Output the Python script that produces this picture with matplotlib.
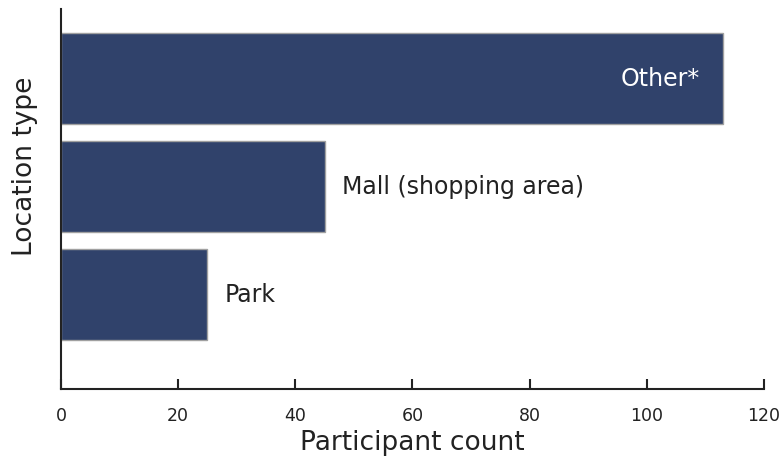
import matplotlib
matplotlib.use('Agg')
import matplotlib.pyplot as plt

categories = ['Park', 'Mall (shopping area)', 'Other*']
counts = [25, 45, 113]
inside_label = [False, False, True]

BAR_COLOR = '#30426b'

plt.rcParams['font.family'] = ['DejaVu Sans']

fig = plt.figure(figsize=(7.79, 4.6), dpi=100)
ax = fig.add_axes([0.0783, 0.152, 0.9024, 0.826])

pos = list(range(len(categories)))
ax.barh(pos, counts, height=0.84, color=BAR_COLOR, edgecolor='#a0a0a0', linewidth=1)

for p, c, name, inside in zip(pos, counts, categories, inside_label):
    if inside:
        ax.text(c - 4, p, name, ha='right', va='center', color='white', fontsize=17)
    else:
        ax.text(c + 3, p, name, ha='left', va='center', color='#222222', fontsize=17)

ax.set_xlim(0, 120)
ax.set_ylim(-0.875, 2.64)
ax.set_xticks([0, 20, 40, 60, 80, 100, 120])
ax.set_yticks([])
ax.tick_params(axis='x', direction='in', length=7, width=1.5, labelsize=12.5,
               pad=12, colors='#222222')
for s in ['top', 'right']:
    ax.spines[s].set_visible(False)
for s in ['left', 'bottom']:
    ax.spines[s].set_linewidth(1.5)
    ax.spines[s].set_color('#222222')

ax.set_xlabel('Participant count', fontsize=19, color='#222222', labelpad=4)
ax.set_ylabel('Location type', fontsize=19, color='#222222')
ax.yaxis.set_label_coords(-0.033, 0.59)

plt.savefig('out.png', dpi=100)
